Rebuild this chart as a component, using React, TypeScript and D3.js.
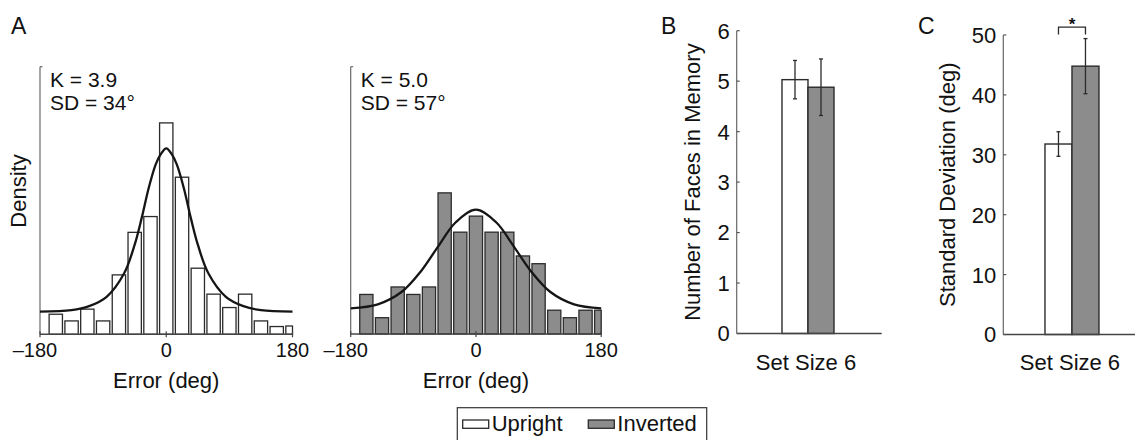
import React from 'react';
import * as d3 from 'd3';

// ---------- DATA ----------
const binCenters = [-157.5, -135, -112.5, -90, -67.5, -45, -22.5, 0, 22.5, 45, 67.5, 90, 112.5, 135, 157.5, 180];
const uprightDensity = [0.075, 0.05, 0.094, 0.05, 0.222, 0.381, 0.44, 0.79, 0.587, 0.247, 0.15, 0.1, 0.15, 0.05, 0.029, 0.031];
const invertedDensity = [0.148, 0.061, 0.176, 0.148, 0.176, 0.528, 0.381, 0.441, 0.381, 0.381, 0.292, 0.263, 0.089, 0.061, 0.089, 0.089];

const uprightFitX = [-180, -135, -110, -85, -60, -45, -35, -25, -15, -8, 0, 8, 15, 25, 35, 45, 60, 85, 110, 135, 180];
const uprightFitY = [0.085, 0.09, 0.105, 0.14, 0.228, 0.335, 0.435, 0.547, 0.635, 0.672, 0.695, 0.672, 0.635, 0.547, 0.435, 0.335, 0.228, 0.14, 0.105, 0.09, 0.085];
const invertedFitX = [-180, -141, -107, -79, -55, -29, 0, 29, 55, 79, 107, 141, 180];
const invertedFitY = [0.096, 0.111, 0.157, 0.235, 0.325, 0.418, 0.465, 0.418, 0.325, 0.235, 0.157, 0.111, 0.096];

const errorTicks = [-180, 0, 180];
const uprightStats = ['K = 3.9', 'SD = 34°'];
const invertedStats = ['K = 5.0', 'SD = 57°'];

const conditions = ['Upright', 'Inverted'];
const setSizes = ['Set Size 6'];
const capacityMean = [5.03, 4.88];
const capacityErr = [0.38, 0.56];
const capacityTicks = [0, 1, 2, 3, 4, 5, 6];
const sdMean = [31.8, 44.8];
const sdErr = [2.05, 4.6];
const sdTicks = [0, 10, 20, 30, 40, 50];

// ---------- STYLE ----------
const FONT = '"Liberation Sans", Arial, Helvetica, sans-serif';
const FILLS: Record<string, string> = { Upright: '#ffffff', Inverted: '#8c8c8c' };
const EDGE = '#2b2b2b';
const BAR_DEG = 19;

type HistProps = {
  left: number; right: number; top: number; base: number;
  values: number[]; fitX: number[]; fitY: number[]; fill: string; stats: string[];
};

function Histogram({ left, right, top, base, values, fitX, fitY, fill, stats }: HistProps) {
  const x = d3.scaleLinear().domain([-180, 180]).range([left, right]);
  const y = d3.scaleLinear().domain([0, 1]).range([base, top]);
  const line = d3.line<number>()
    .x((_, i) => x(fitX[i]))
    .y((d) => y(d))
    .curve(d3.curveCatmullRom.alpha(0.5));
  const mid = (left + right) / 2;
  return (
    <g>
      {binCenters.map((c, i) => {
        const a = Math.max(-180, c - BAR_DEG / 2);
        const b = Math.min(180, c + BAR_DEG / 2);
        return (
          <rect key={i} x={x(a)} y={y(values[i])} width={x(b) - x(a)} height={y(0) - y(values[i])}
            fill={fill} stroke={EDGE} strokeWidth={1.3} />
        );
      })}
      <line x1={left} x2={left} y1={top} y2={base} stroke="#6a6a6a" strokeWidth={1.2} />
      <line x1={left} x2={left + 2.5} y1={top} y2={top} stroke="#6a6a6a" strokeWidth={1.2} />
      <line x1={left} x2={right} y1={base} y2={base} stroke="#444" strokeWidth={1.4} />
      {errorTicks.map((t) => (
        <line key={t} x1={x(t)} x2={x(t)} y1={base - 3} y2={base + 3} stroke="#444" strokeWidth={1.2} />
      ))}
      <path d={line(fitY) || ''} fill="none" stroke="#151515" strokeWidth={2.3} />
      {errorTicks.map((t) => (
        <text key={t} x={x(t)} dx={t < 0 ? -5 : 0} y={357} textAnchor="middle" fontSize={20}>{t < 0 ? '–' + Math.abs(t) : t}</text>
      ))}
      <text x={mid} y={388} textAnchor="middle" fontSize={22}>Error (deg)</text>
      {stats.map((s, i) => (
        <text key={s} x={left + 10} y={86.5 + i * 23.5} fontSize={21}>{s}</text>
      ))}
    </g>
  );
}

type BarProps = {
  left: number; right: number; top: number; base: number; align: number; bandW: number;
  max: number; ticks: number[]; means: number[]; errs: number[];
  label: string; labelX: number; bracket?: boolean;
};

function BarPanel({ left, right, top, base, align, bandW, max, ticks, means, errs, label, labelX, bracket }: BarProps) {
  const po = ((right - left) / bandW - 1) / 2;
  const xg = d3.scaleBand<string>().domain(setSizes).range([left, right]).paddingInner(0).paddingOuter(po).align(align);
  const xs = d3.scaleBand<string>().domain(conditions).range([0, xg.bandwidth()]).padding(0);
  const y = d3.scaleLinear().domain([0, max]).range([base, top]);
  const g0 = xg(setSizes[0]) as number;
  const cx = conditions.map((c) => g0 + (xs(c) as number) + xs.bandwidth() / 2);
  const hi = means.map((m, i) => y(m + errs[i]));
  return (
    <g>
      {conditions.map((c, i) => (
        <rect key={c} x={g0 + (xs(c) as number)} y={y(means[i])} width={xs.bandwidth()} height={y(0) - y(means[i])}
          fill={FILLS[c]} stroke={EDGE} strokeWidth={1.4} />
      ))}
      {conditions.map((c, i) => (
        <g key={c} stroke="#2b2b2b" strokeWidth={1.3}>
          <line x1={cx[i]} x2={cx[i]} y1={y(means[i] + errs[i])} y2={y(means[i] - errs[i])} />
          <line x1={cx[i] - 2} x2={cx[i] + 2} y1={y(means[i] + errs[i])} y2={y(means[i] + errs[i])} />
          <line x1={cx[i] - 2} x2={cx[i] + 2} y1={y(means[i] - errs[i])} y2={y(means[i] - errs[i])} />
        </g>
      ))}
      <line x1={left} x2={left} y1={top} y2={base} stroke="#666" strokeWidth={1.2} />
      <line x1={left} x2={right} y1={base} y2={base} stroke="#444" strokeWidth={1.5} />
      {ticks.map((t) => (
        <g key={t}>
          <line x1={left} x2={left + 3} y1={y(t)} y2={y(t)} stroke="#555" strokeWidth={1.2} />
          <text x={left - 7} y={y(t)} dy="0.36em" textAnchor="end" fontSize={22}>{t}</text>
        </g>
      ))}
      <text x={g0 + xg.bandwidth() / 2 - 2} y={370} textAnchor="middle" fontSize={22}>{setSizes[0]}</text>
      <text transform={`translate(${labelX},${(top + base) / 2}) rotate(-90)`} textAnchor="middle" fontSize={22}>{label}</text>
      {bracket && (
        <g>
          <path d={`M${cx[0]},${hi[1] - 4} V${hi[1] - 11.5} H${cx[1]} V${hi[1] - 4}`} fill="none" stroke="#2b2b2b" strokeWidth={1.3} />
          <text x={(cx[0] + cx[1]) / 2} y={hi[1] - 9} textAnchor="middle" fontSize={17} fontWeight="bold">*</text>
        </g>
      )}
    </g>
  );
}

export default function App() {
  return (
    <svg width={1135} height={440} style={{ position: 'absolute', left: 0, top: 0, background: '#fff' }}
      fontFamily={FONT} fill="#111">
      <rect x={0} y={0} width={1135} height={440} fill="#fff" />
      <text x={11} y={33.5} fontSize={23}>A</text>
      <text x={661} y={33.5} fontSize={23}>B</text>
      <text x={918} y={33.5} fontSize={23}>C</text>
      <text transform="translate(26,191) rotate(-90)" textAnchor="middle" fontSize={22}>Density</text>

      <Histogram left={40} right={292.5} top={66.7} base={334.3} values={uprightDensity}
        fitX={uprightFitX} fitY={uprightFitY} fill={FILLS.Upright} stats={uprightStats} />
      <Histogram left={350.7} right={601.2} top={66.7} base={334} values={invertedDensity}
        fitX={invertedFitX} fitY={invertedFitY} fill={FILLS.Inverted} stats={invertedStats} />

      <BarPanel left={736.7} right={881.7} top={30.7} base={333.5} align={0.487} bandW={52}
        max={6} ticks={capacityTicks} means={capacityMean} errs={capacityErr}
        label="Number of Faces in Memory" labelX={700} />
      <BarPanel left={1003.3} right={1148.3} top={35} base={334.5} align={0.458} bandW={54}
        max={50} ticks={sdTicks} means={sdMean} errs={sdErr}
        label="Standard Deviation (deg)" labelX={955} bracket />

      <rect x={457.3} y={407.7} width={249.4} height={40} fill="#fff" stroke="#333" strokeWidth={1.2} />
      {conditions.map((c, i) => {
        const sx = [462.7, 588.3][i];
        return (
          <g key={c}>
            <rect x={sx} y={420} width={26} height={8.3} fill={FILLS[c]} stroke={EDGE} strokeWidth={1.3} />
            <text x={sx + 29} y={430.7} fontSize={22}>{c}</text>
          </g>
        );
      })}
    </svg>
  );
}
